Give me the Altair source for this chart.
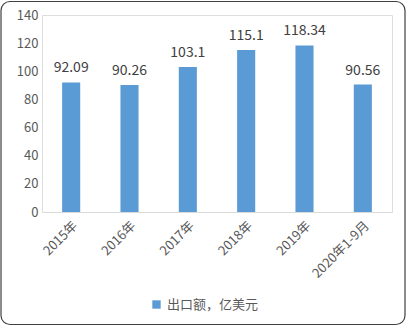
import altair as alt
import pandas as pd

categories = ["2015年", "2016年", "2017年", "2018年", "2019年", "2020年1-9月"]
values = [92.09, 90.26, 103.1, 115.1, 118.34, 90.56]
labels = ["92.09", "90.26", "103.1", "115.1", "118.34", "90.56"]
series = "出口额，亿美元"
y_ticks = [0, 20, 40, 60, 80, 100, 120, 140]

df = pd.DataFrame({"cat": categories, "val": values, "lab": labels, "s": [series] * len(categories)})

FONT = "Noto Sans CJK SC"
GRAY = "#595959"
BLUE = "#5B9BD5"

X = alt.X("cat:N", sort=categories, title=None,
          scale=alt.Scale(paddingInner=0.69, paddingOuter=0.345),
          axis=alt.Axis(labelAngle=-45, labelFont=FONT, labelFontSize=13, labelColor=GRAY,
                        ticks=False, domainColor="#D9D9D9", labelPadding=7))
Y = alt.Y("val:Q", title=None,
          scale=alt.Scale(domain=[0, 140], nice=False),
          axis=alt.Axis(values=y_ticks, grid=False, ticks=False,
                        domain=False, labelFont=FONT, labelFontSize=13, labelColor=GRAY,
                        labelPadding=4, labelOverlap=False, labelBound=False, labelFlush=False))

base = alt.Chart(df)

border = alt.Chart(pd.DataFrame({"a": [0]})).mark_rect(
    fill="transparent", stroke="#404040", strokeWidth=1.2, cornerRadius=9, clip=False,
    x=-41, x2=363, y=-13.5, y2=309.5
).encode(
    opacity=alt.value(1)
)

top_edge = alt.Chart(pd.DataFrame({"a": [0]})).mark_rule(
    color="#404040", strokeWidth=1.2, clip=False
).encode(
    x=alt.value(-33), x2=alt.value(355), y=alt.value(-13.5)
)

bars = base.mark_bar(color=BLUE).encode(
    x=X, y=Y,
    opacity=alt.Opacity("s:N", scale=alt.Scale(range=[1]),
                        legend=alt.Legend(title=None, orient="none", legendX=108, legendY=283,
                                          symbolType="square", symbolSize=70, symbolFillColor=BLUE,
                                          symbolStrokeWidth=0,
                                          labelFont=FONT, labelFontSize=13, labelColor=GRAY)),
)

text = base.mark_text(baseline="bottom", dy=-7, font=FONT, fontSize=14, color="#404040").encode(
    x=X, y=Y, text="lab:N",
)

chart = alt.layer(bars, text, border, top_edge).properties(
    width=350, height=197,
    autosize=alt.AutoSizeParams(type="none"),
    padding={"left": 42, "top": 15, "right": 14, "bottom": 114},
).configure_view(stroke=None).configure(background="white")

chart.save("out.html", embed_options={"renderer": "svg", "actions": False})
